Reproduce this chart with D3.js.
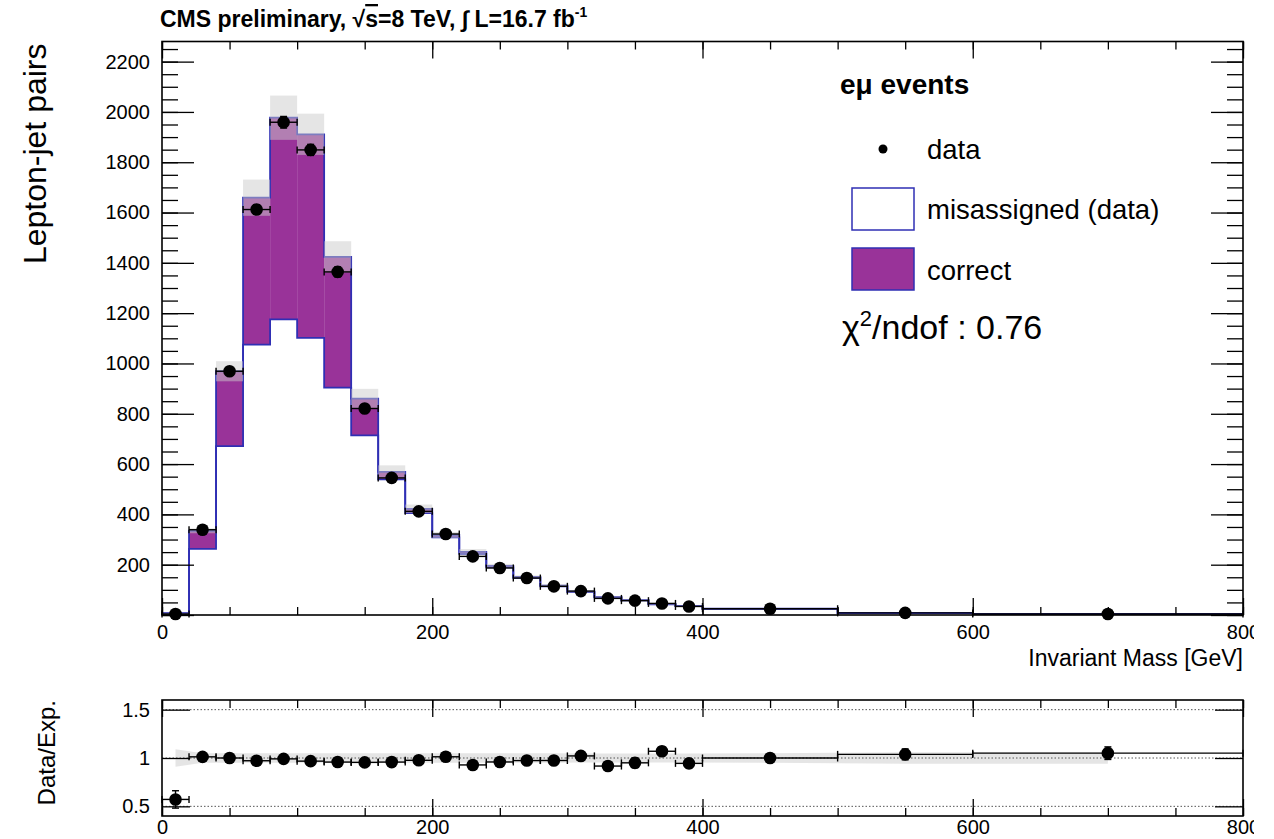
<!DOCTYPE html>
<html>
<head>
  <meta charset="utf-8">
  <title>Invariant Mass - Lepton-jet pairs</title>
  <script src="https://d3js.org/d3.v7.min.js"></script>
  <style>
    body { margin: 0; background: #fff; }
    text { font-family: "Liberation Sans", Arial, Helvetica, sans-serif; fill: #000; }
  </style>
</head>
<body>

  <svg width="1274" height="839"></svg>

  <script>

    // Bin edges in GeV (20 GeV bins up to 400, then wide bins)
    const binEdges = [0, 20, 40, 60, 80, 100, 120, 140, 160, 180, 200, 220, 240, 260,
                      280, 300, 320, 340, 360, 380, 400, 500, 600, 800];

    // Observed lepton-jet pairs per bin
    const dataCounts = [4, 339, 969, 1612, 1959, 1849, 1364, 821, 545, 412, 322, 233, 187,
                        147, 114, 95, 66, 57, 46, 34, 25, 8.3, 4.2];
    const dataErr = [0.63, 7, 15, 19, 23, 22, 20, 16, 14, 12, 10, 9, 7, 6, 5, 4, 3, 3,
                     2, 1.7, 0.8, 0.45, 0.26];

    // Stack components: misassigned (from data) and correct pairings
    const misassigned = [6, 263, 671, 1075, 1175, 1102, 904, 714, 539, 405, 309, 243, 189,
                         147, 114, 91, 70, 58, 42, 35, 24.5, 7.8, 3.9];
    const correct = [1, 72, 298, 584, 802, 809, 520, 146, 30, 17, 9, 8, 6, 4, 3, 2, 2, 2,
                     1, 1, 0.5, 0.2, 0.1];

    // Uncertainty on the expectation (absolute) and on the ratio (relative)
    const stackErr = [2, 10, 40, 72, 88, 82, 62, 39, 26, 17, 12, 11, 8, 6, 5, 4, 3, 3,
                      2, 2, 1, 0.4, 0.2];
    const ratioBand = [0.09, 0.05, 0.05, 0.05, 0.05, 0.05, 0.05, 0.05, 0.05, 0.05, 0.05,
                       0.05, 0.05, 0.05, 0.048, 0.047, 0.047, 0.047, 0.047, 0.047, 0.05,
                       0.06, 0.06];

    const yTickLabels = [200, 400, 600, 800, 1000, 1200, 1400, 1600, 1800, 2000, 2200];
    const xTickLabels = [0, 200, 400, 600, 800];
    const ratioTickLabels = [0.5, 1, 1.5];

    const purple = "#993399";
    const blue = "#2f2fb4";
    const bandFill = "#cccccc";

    const bins = d3.range(dataCounts.length).map(i => {
      const total = misassigned[i] + correct[i];
      return {
        lo: binEdges[i], hi: binEdges[i + 1], mid: (binEdges[i] + binEdges[i + 1]) / 2,
        data: dataCounts[i], err: dataErr[i],
        mis: misassigned[i], total: total, band: stackErr[i],
        ratio: dataCounts[i] / total, ratioErr: dataErr[i] / total,
        rband: ratioBand[i]
      };
    });

    // Layout of the two pads
    const left = 162, right = 1243;
    const main = { top: 41.5, bottom: 615 };
    const pad2 = { top: 700, bottom: 816 };

    const x = d3.scaleLinear().domain([0, 800]).range([left, right]);
    const y = d3.scaleLinear().domain([0, 2280]).range([main.bottom, main.top]);
    const yr = d3.scaleLinear().domain([0.4, 1.6]).range([pad2.bottom, pad2.top]);

    const svg = d3.select("svg");

    svg.append("defs").append("clipPath").attr("id", "canvas")
      .append("rect").attr("width", 1254).attr("height", 839);

    const root = svg.append("g").attr("clip-path", "url(#canvas)");

    // ---------- main pad ----------
    const plot = root.append("g");

    plot.selectAll(".mis")
      .data(bins)
      .enter().append("rect")
        .attr("x", d => x(d.lo))
        .attr("width", d => x(d.hi) - x(d.lo))
        .attr("y", d => y(d.mis))
        .attr("height", d => y(0) - y(d.mis))
        .attr("fill", "#fff");

    plot.selectAll(".cor")
      .data(bins)
      .enter().append("rect")
        .attr("x", d => x(d.lo))
        .attr("width", d => x(d.hi) - x(d.lo))
        .attr("y", d => y(d.total))
        .attr("height", d => y(d.mis) - y(d.total))
        .attr("fill", purple);

    // step outlines of the stacked histograms
    function stepPoints(key) {
      const pts = [[x(0), y(0)]];
      bins.forEach(d => { pts.push([x(d.lo), y(d[key])]); pts.push([x(d.hi), y(d[key])]); });
      pts.push([x(800), y(0)]);
      return pts;
    }
    const line = d3.line();
    ["mis", "total"].forEach(key => {
      plot.append("path")
        .attr("d", line(stepPoints(key)))
        .attr("fill", "none")
        .attr("stroke", blue)
        .attr("stroke-width", 1.8);
    });

    // uncertainty band around the stacked expectation
    plot.selectAll(".band")
      .data(bins)
      .enter().append("rect")
        .attr("x", d => x(d.lo))
        .attr("width", d => x(d.hi) - x(d.lo))
        .attr("y", d => y(d.total + d.band))
        .attr("height", d => y(d.total - d.band) - y(d.total + d.band))
        .attr("fill", bandFill)
        .attr("fill-opacity", 0.5);

    function drawPoints(g, ys, valKey, errKey, r) {
      const pts = g.selectAll(null).data(bins).enter().append("g");
      pts.append("line")
        .attr("x1", d => x(d.lo)).attr("x2", d => x(d.hi))
        .attr("y1", d => ys(d[valKey])).attr("y2", d => ys(d[valKey]));
      pts.append("line")
        .attr("x1", d => x(d.lo)).attr("x2", d => x(d.lo))
        .attr("y1", d => ys(d[valKey]) - 3.5).attr("y2", d => ys(d[valKey]) + 3.5);
      pts.append("line")
        .attr("x1", d => x(d.hi)).attr("x2", d => x(d.hi))
        .attr("y1", d => ys(d[valKey]) - 3.5).attr("y2", d => ys(d[valKey]) + 3.5);
      pts.append("line")
        .attr("x1", d => x(d.mid)).attr("x2", d => x(d.mid))
        .attr("y1", d => ys(d[valKey] - d[errKey])).attr("y2", d => ys(d[valKey] + d[errKey]));
      [1, -1].forEach(s => {
        pts.append("line")
          .attr("x1", d => x(d.mid) - 3.5).attr("x2", d => x(d.mid) + 3.5)
          .attr("y1", d => ys(d[valKey] + s * d[errKey]))
          .attr("y2", d => ys(d[valKey] + s * d[errKey]));
      });
      pts.selectAll("line").attr("stroke", "#000").attr("stroke-width", 1.4);
      pts.append("circle")
        .attr("cx", d => x(d.mid)).attr("cy", d => ys(d[valKey]))
        .attr("r", r).attr("fill", "#000");
    }
    drawPoints(plot, y, "data", "err", 6.3);

    // frame ticks pointing inwards
    function frame(g, ys, top, bottom, yMajor, yMinor, yMajLen, yMinLen, yLabels, yFmt, labelPad) {
      const xMajor = d3.range(0, 801, 200), xMinor = d3.range(0, 801, 50);
      g.append("g").attr("transform", `translate(0,${bottom})`)
        .call(d3.axisBottom(x).tickValues(xMinor).tickSize(-8).tickFormat(""));
      g.append("g").attr("transform", `translate(0,${bottom})`)
        .call(d3.axisBottom(x).tickValues(xMajor).tickSize(-17).tickPadding(labelPad)
          .tickFormat(d => xTickLabels.includes(d) ? d : ""));
      g.append("g").attr("transform", `translate(0,${top})`)
        .call(d3.axisTop(x).tickValues(xMinor).tickSize(-8).tickFormat(""));
      g.append("g").attr("transform", `translate(0,${top})`)
        .call(d3.axisTop(x).tickValues(xMajor).tickSize(-17).tickFormat(""));
      if (yMinor.length) {
        g.append("g").attr("transform", `translate(${left},0)`)
          .call(d3.axisLeft(ys).tickValues(yMinor).tickSize(-yMinLen).tickFormat(""));
        g.append("g").attr("transform", `translate(${right},0)`)
          .call(d3.axisRight(ys).tickValues(yMinor).tickSize(-yMinLen).tickFormat(""));
      }
      g.append("g").attr("transform", `translate(${left},0)`)
        .call(d3.axisLeft(ys).tickValues(yMajor).tickSize(-yMajLen).tickPadding(12)
          .tickFormat(d => yLabels.includes(d) ? yFmt(d) : ""));
      g.append("g").attr("transform", `translate(${right},0)`)
        .call(d3.axisRight(ys).tickValues(yMajor).tickSize(-yMajLen).tickFormat(""));
      g.selectAll(".domain").remove();
      g.selectAll(".tick line").attr("stroke", "#000").attr("stroke-width", 1.3);
      g.selectAll(".tick text").style("font-size", "20px")
        .style("font-family", "'Liberation Sans', Arial, sans-serif");
      g.append("rect")
        .attr("x", left).attr("y", top)
        .attr("width", right - left).attr("height", bottom - top)
        .attr("fill", "none").attr("stroke", "#000").attr("stroke-width", 1.6);
    }

    frame(plot, y, main.top, main.bottom,
      d3.range(0, 2281, 200), d3.range(0, 2281, 50), 32, 16, yTickLabels, d => d, 10);

    plot.append("text")
      .attr("x", right).attr("y", 666)
      .attr("text-anchor", "end")
      .style("font-size", "23px")
      .text("Invariant Mass [GeV]");

    plot.append("text")
      .attr("transform", `translate(46,${main.top + 2}) rotate(-90)`)
      .attr("text-anchor", "end")
      .style("font-size", "32px")
      .text("Lepton-jet pairs");

    // title
    const title = root.append("text")
      .attr("x", 160).attr("y", 27)
      .style("font-size", "23px").style("font-weight", "bold");
    title.append("tspan").text("CMS preliminary, √");
    title.append("tspan").style("text-decoration", "overline").text("s");
    title.append("tspan").text("=8 TeV, ∫ L=16.7 fb");
    title.append("tspan").attr("dy", -10).style("font-size", "14px").text("-1");

    // legend
    const leg = root.append("g");
    leg.append("text").attr("x", 840).attr("y", 94)
      .style("font-size", "28px").style("font-weight", "bold").text("eμ events");
    leg.append("circle").attr("cx", 883).attr("cy", 149).attr("r", 4.5).attr("fill", "#000");
    leg.append("text").attr("x", 927).attr("y", 159).style("font-size", "27.5px").text("data");
    leg.append("rect").attr("x", 852).attr("y", 188).attr("width", 62).attr("height", 42)
      .attr("fill", "#fff").attr("stroke", blue).attr("stroke-width", 1.5);
    leg.append("text").attr("x", 927).attr("y", 219).style("font-size", "27.5px").text("misassigned (data)");
    leg.append("rect").attr("x", 852).attr("y", 248).attr("width", 62).attr("height", 42)
      .attr("fill", purple).attr("stroke", blue).attr("stroke-width", 1.5);
    leg.append("text").attr("x", 927).attr("y", 280).style("font-size", "27.5px").text("correct");
    const chi = leg.append("text").attr("x", 842).attr("y", 339).style("font-size", "34px");
    chi.append("tspan").text("χ");
    chi.append("tspan").attr("dy", -13).style("font-size", "22px").text("2");
    chi.append("tspan").attr("dy", 13).text("/ndof : 0.76");

    // ---------- ratio pad ----------
    const rat = root.append("g");

    rat.append("path")
      .datum(bins)
      .attr("d", d3.area()
        .x(d => x(d.mid))
        .y0(d => yr(1 - d.rband))
        .y1(d => yr(1 + d.rband)))
      .attr("fill", bandFill)
      .attr("fill-opacity", 0.5);

    ratioTickLabels.forEach(v => {
      rat.append("line")
        .attr("x1", left).attr("x2", right)
        .attr("y1", yr(v)).attr("y2", yr(v))
        .attr("stroke", "#555").attr("stroke-width", 1)
        .attr("stroke-dasharray", "1.5,2");
    });

    drawPoints(rat, yr, "ratio", "ratioErr", 6.3);

    frame(rat, yr, pad2.top, pad2.bottom,
      ratioTickLabels, [], 28, 0, ratioTickLabels, d3.format("~g"), 4);

    rat.append("text")
      .attr("transform", `translate(55,${pad2.top}) rotate(-90)`)
      .attr("text-anchor", "end")
      .style("font-size", "24px")
      .text("Data/Exp.");

  </script>

</body>
</html>
